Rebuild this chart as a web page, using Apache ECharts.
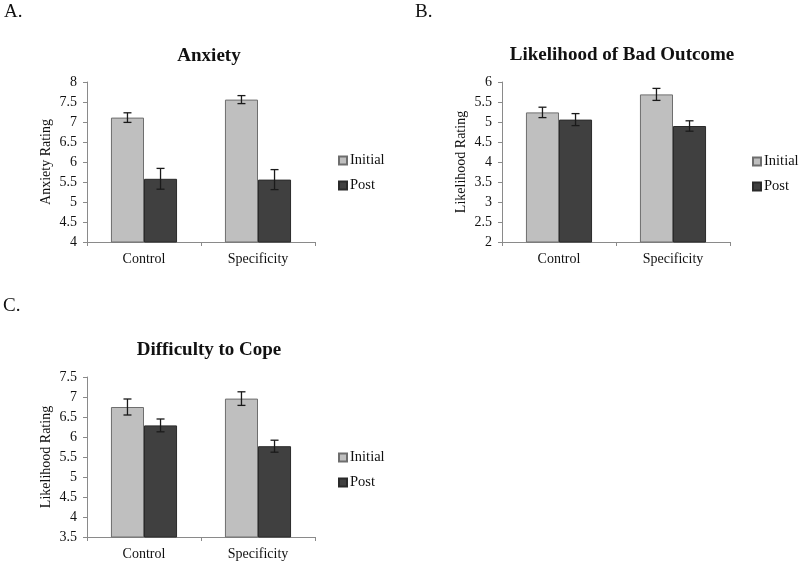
<!DOCTYPE html>
<html>
<head>
<meta charset="utf-8">
<script src="https://cdn.jsdelivr.net/npm/echarts@6/dist/echarts.min.js"></script>
<style>
html,body{margin:0;padding:0;background:#fff;}
#main{width:800px;height:567px;}
</style>
</head>
<body>
<div id="main"></div>
<script>
var categories = ['Control', 'Specificity'];
var seriesNames = ['Initial', 'Post'];

var anxietyInitial = [7.11, 7.56];
var anxietyInitialErr = [0.12, 0.10];
var anxietyPost = [5.58, 5.56];
var anxietyPostErr = [0.26, 0.25];

var likelihoodInitial = [5.24, 5.69];
var likelihoodInitialErr = [0.13, 0.15];
var likelihoodPost = [5.06, 4.90];
var likelihoodPostErr = [0.15, 0.13];

var copeInitial = [6.75, 6.96];
var copeInitialErr = [0.20, 0.17];
var copePost = [6.29, 5.77];
var copePostErr = [0.16, 0.15];

var panelTitles = ['Anxiety', 'Likelihood of Bad Outcome', 'Difficulty to Cope'];
var panelLetters = ['A.', 'B.', 'C.'];
var yNames = ['Anxiety Rating', 'Likelihood Rating', 'Likelihood Rating'];
var yMins = [4, 2, 3.5];
var yMaxs = [8, 6, 7.5];
var yStep = 0.5;

var FONT = "'Liberation Serif', 'Times New Roman', serif";
var BAR_W = 0.29;
var colors = { Initial: '#bfbfbf', Post: '#404040' };
var borders = { Initial: '#6e6e6e', Post: '#2a2a2a' };

var panels = [
  { init: anxietyInitial, initErr: anxietyInitialErr, post: anxietyPost, postErr: anxietyPostErr },
  { init: likelihoodInitial, initErr: likelihoodInitialErr, post: likelihoodPost, postErr: likelihoodPostErr },
  { init: copeInitial, initErr: copeInitialErr, post: copePost, postErr: copePostErr }
];

var grids = [
  { left: 87, top: 82, width: 228, height: 160 },
  { left: 502, top: 82, width: 228, height: 160 },
  { left: 87, top: 377, width: 228, height: 160 }
];
var titlePos = [[209, 56], [622, 55], [209, 350]];
var letterPos = [[4, 12], [415, 12], [3, 306]];
var legendPos = [[338, 153], [752, 154], [338, 450]];

var xAxes = [], yAxes = [], series = [], legends = [], graphics = [];

function errRender(side) {
  return function (params, api) {
    var idx = api.value(0);
    var val = api.value(1);
    var err = api.value(2);
    var c = api.coord([idx, val]);
    var bw = api.size([1, 0])[0] * BAR_W;
    var x = c[0] + side * bw / 2;
    var top = api.coord([idx, val + err])[1];
    var bot = api.coord([idx, val - err])[1];
    var cap = 4;
    var st = { stroke: '#1a1a1a', lineWidth: 1.3 };
    return {
      type: 'group',
      children: [
        { type: 'line', shape: { x1: x, y1: top, x2: x, y2: bot }, style: st },
        { type: 'line', shape: { x1: x - cap, y1: top, x2: x + cap, y2: top }, style: st },
        { type: 'line', shape: { x1: x - cap, y1: bot, x2: x + cap, y2: bot }, style: st }
      ]
    };
  };
}

panels.forEach(function (p, i) {
  xAxes.push({
    type: 'category', gridIndex: i, data: categories,
    axisLine: { lineStyle: { color: '#8a8a8a', width: 1 } },
    axisTick: { show: true, length: 4, lineStyle: { color: '#8a8a8a' } },
    axisLabel: { color: '#111', fontFamily: FONT, fontSize: 14, margin: 10 }
  });
  yAxes.push({
    type: 'value', gridIndex: i, min: yMins[i], max: yMaxs[i], interval: yStep,
    name: yNames[i], nameLocation: 'middle', nameGap: 34, nameRotate: 90,
    nameTextStyle: { color: '#111', fontFamily: FONT, fontSize: 14 },
    splitLine: { show: false },
    axisLine: { show: true, lineStyle: { color: '#8a8a8a', width: 1 } },
    axisTick: { show: true, length: 4, lineStyle: { color: '#8a8a8a' } },
    axisLabel: { color: '#111', fontFamily: FONT, fontSize: 14, margin: 10 }
  });
  series.push({
    name: 'Initial', type: 'bar', xAxisIndex: i, yAxisIndex: i,
    data: p.init, barWidth: (BAR_W * 100) + '%', barGap: '0%',
    itemStyle: { color: colors.Initial, borderColor: borders.Initial, borderWidth: 1 }
  });
  series.push({
    name: 'Post', type: 'bar', xAxisIndex: i, yAxisIndex: i,
    data: p.post, barWidth: (BAR_W * 100) + '%', barGap: '0%',
    itemStyle: { color: colors.Post, borderColor: borders.Post, borderWidth: 1 }
  });
  series.push({
    type: 'custom', xAxisIndex: i, yAxisIndex: i, z: 10,
    renderItem: errRender(-1),
    encode: { x: 0, y: 1 },
    data: p.init.map(function (v, k) { return [k, v, p.initErr[k]]; })
  });
  series.push({
    type: 'custom', xAxisIndex: i, yAxisIndex: i, z: 10,
    renderItem: errRender(1),
    encode: { x: 0, y: 1 },
    data: p.post.map(function (v, k) { return [k, v, p.postErr[k]]; })
  });
  legends.push({
    data: seriesNames, orient: 'vertical', left: legendPos[i][0], top: legendPos[i][1],
    padding: 0, icon: 'rect', itemWidth: 8, itemHeight: 8, itemGap: 10,
    textStyle: { color: '#111', fontFamily: FONT, fontSize: 14.5, padding: [0, 0, 0, -2] },
    selectedMode: false
  });
  graphics.push({
    type: 'text', x: titlePos[i][0], y: titlePos[i][1],
    style: { text: panelTitles[i], fontFamily: FONT, fontSize: 19, fontWeight: 'bold', fill: '#111',
             textAlign: 'center', textVerticalAlign: 'middle' }
  });
  graphics.push({
    type: 'text', x: letterPos[i][0], y: letterPos[i][1],
    style: { text: panelLetters[i], fontFamily: FONT, fontSize: 19, fill: '#111',
             textAlign: 'left', textVerticalAlign: 'middle' }
  });
});

var chart = echarts.init(document.getElementById('main'), null, { renderer: 'canvas' });
chart.setOption({
  animation: false,
  backgroundColor: '#fff',
  grid: grids,
  xAxis: xAxes,
  yAxis: yAxes,
  legend: legends,
  series: series,
  graphic: graphics
});
</script>
</body>
</html>
